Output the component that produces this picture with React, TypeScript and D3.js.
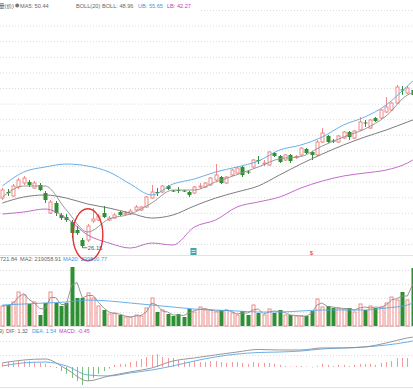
import * as d3 from "d3";

const W = 413;
const H = 389;

// K-line data, one entry per trading day (open / high / low / close)
const opens = [
  34.95, 36.02, 35.31, 36.9, 37.61, 37.79, 36.72, 37.26, 35.84, 32.3,
  34.07, 31.95, 31.59, 30.71, 29.29, 27.52, 27.52, 30.88, 31.06, 32.3,
  31.06, 31.41, 32.48, 32.12, 32.12, 32.83, 32.83, 33.36, 34.95, 36.02,
  36.02, 37.08, 36.28, 36.37, 36.28, 36.02, 35.84, 36.99, 36.9, 37.26,
  38.14, 38.67, 37.61, 39.03, 39.38, 40.44, 39.64, 40.44, 41.68, 41.06,
  40.8, 42.92, 42.39, 41.68, 42.57, 42.12, 42.57, 43.63, 43.1, 42.57,
  44.87, 45.93, 45.13, 44.87, 45.57, 46.64, 45.57, 46.99, 48.32, 47.34,
  49.11, 49.11, 50.18, 50.53, 51.77, 54.16, 53.54, 54.07,
];
const highs = [
  36.72, 36.55, 37.43, 38.49, 38.85, 38.14, 37.96, 37.61, 36.19, 34.6,
  34.42, 32.3, 32.12, 31.06, 30.0, 27.87, 30.35, 33.18, 32.12, 33.54,
  31.77, 32.3, 32.65, 32.65, 33.01, 33.72, 33.54, 35.31, 37.26, 36.72,
  37.26, 37.26, 36.37, 36.9, 36.37, 36.19, 37.08, 37.61, 37.79, 38.67,
  40.97, 38.85, 38.85, 40.09, 40.44, 40.62, 39.91, 41.86, 42.39, 41.68,
  43.27, 43.1, 42.57, 42.74, 42.74, 42.57, 43.98, 43.8, 43.27, 45.22,
  47.34, 46.11, 45.4, 46.11, 46.81, 46.81, 46.99, 49.29, 48.76, 48.94,
  49.29, 50.71, 52.83, 51.95, 54.96, 54.78, 54.78, 54.42,
];
const lows = [
  34.6, 35.31, 35.13, 36.55, 37.26, 36.9, 36.55, 36.19, 34.07, 32.12,
  31.77, 31.06, 30.71, 27.87, 28.41, 26.15, 27.17, 30.53, 30.88, 31.41,
  30.88, 31.24, 31.77, 31.95, 31.95, 32.65, 32.65, 33.18, 34.78, 35.31,
  35.84, 36.37, 36.02, 35.84, 36.02, 35.13, 35.66, 36.55, 36.72, 37.08,
  37.96, 37.43, 37.43, 38.85, 39.2, 38.67, 39.2, 40.26, 40.97, 40.62,
  40.62, 42.21, 41.15, 41.5, 41.15, 41.86, 42.39, 42.74, 41.68, 42.39,
  44.69, 44.69, 44.69, 44.69, 45.4, 45.22, 45.4, 46.81, 47.52, 47.17,
  48.41, 48.94, 50.0, 50.35, 51.59, 53.19, 53.36, 50.18,
];
const closes = [
  36.37, 35.84, 37.08, 38.14, 38.49, 37.26, 37.61, 36.37, 34.6, 34.25,
  32.3, 31.41, 31.06, 28.76, 28.76, 26.46, 30.0, 31.24, 31.77, 31.59,
  31.41, 31.95, 31.95, 32.3, 32.65, 33.36, 33.36, 35.13, 36.02, 35.84,
  37.08, 36.55, 36.1, 36.19, 36.1, 35.49, 36.9, 37.08, 37.61, 38.49,
  39.03, 37.61, 38.67, 39.91, 40.26, 39.03, 39.47, 41.68, 41.59, 41.15,
  43.1, 42.39, 41.33, 42.57, 41.5, 42.3, 43.8, 42.92, 42.57, 44.87,
  46.46, 44.87, 44.95, 45.93, 46.64, 45.75, 46.81, 48.41, 48.14, 48.76,
  48.58, 50.53, 51.06, 51.77, 54.6, 53.98, 54.42, 53.19,
];

const volumes = [
  232000, 243600, 278400, 394400, 359600, 255200, 278400, 127600, 266800, 394400,
  266800, 232000, 266800, 684400, 324800, 324800, 382800, 324800, 232000, 185600,
  139200, 150800, 127600, 104400, 104400, 127600, 116000, 208800, 324800, 162400,
  185600, 139200, 116000, 139200, 104400, 197200, 162400, 220400, 185600, 185600,
  162400, 185600, 185600, 150800, 127600, 174000, 127600, 243600, 150800, 127600,
  197200, 150800, 185600, 127600, 127600, 116000, 116000, 116000, 174000, 313200,
  220400, 232000, 208800, 208800, 197200, 208800, 162400, 255200, 185600, 232000,
  208800, 220400, 266800, 336400, 301600, 394400, 301600, 672800,
];
const volMa2 = [
  232000, 237800, 261000, 336400, 377000, 307400, 266800, 203000, 197200, 330600,
  330600, 249400, 249400, 475600, 504600, 324800, 353800, 353800, 278400, 208800,
  162400, 145000, 139200, 116000, 104400, 116000, 121800, 162400, 266800, 243600,
  174000, 162400, 127600, 127600, 121800, 150800, 179800, 191400, 203000, 185600,
  174000, 174000, 185600, 168200, 139200, 150800, 150800, 185600, 197200, 139200,
  162400, 174000, 168200, 156600, 127600, 121800, 116000, 116000, 145000, 243600,
  266800, 226200, 220400, 208800, 203000, 203000, 185600, 208800, 220400, 208800,
  220400, 214600, 243600, 301600, 319000, 348000, 348000, 487200,
];

const macdHist = [
  0.24, 0.29, 0.29, 0.35, 0.35, 0.35, 0.29, 0.24, 0.18, 0.06,
  -0.06, -0.24, -0.41, -0.65, -0.82, -1.06, -0.82, -0.65, -0.41, -0.24,
  -0.09, 0.12, 0.18, 0.18, 0.29, 0.35, 0.47, 0.59, 0.71, 0.76,
  0.59, 0.53, 0.53, 0.41, 0.35, 0.29, 0.35, 0.29, 0.29, 0.35,
  0.35, 0.29, 0.24, 0.29, 0.29, 0.24, 0.18, 0.29, 0.24, 0.24,
  0.24, 0.18, 0.12, 0.06, 0.03, 0.06, 0.06, 0.03, -0.03, 0.06,
  0.18, 0.12, 0.06, 0.12, 0.12, 0.06, 0.12, 0.18, 0.18, 0.18,
  0.12, 0.24, 0.29, 0.35, 0.53, 0.53, 0.53, 0.53,
];

// smooth indicator lines
const lineIdx = [0, 4, 8, 12, 16, 20, 24, 28, 32, 36, 40, 44, 48, 52, 56, 60, 64, 68, 72, 76, 77];
const ma5 = [35.13, 37.08, 37.08, 32.83, 28.94, 31.24, 32.12, 34.07, 36.37, 36.37, 37.79, 39.09, 40.44, 41.91, 42.3, 44.16, 45.75, 47.17, 49.47, 53.19, 53.59];
const bollMid = [34.07, 35.13, 35.49, 34.95, 33.89, 33.18, 32.3, 31.41, 31.95, 33.54, 34.95, 36.02, 37.08, 39.03, 40.97, 42.74, 44.34, 45.75, 46.99, 48.41, 48.76];
const bollUp = [37.08, 39.56, 40.44, 40.97, 40.62, 39.56, 37.43, 35.49, 37.43, 38.32, 39.56, 40.44, 41.5, 43.45, 44.34, 45.75, 47.88, 49.29, 51.42, 54.78, 55.66];
const bollLow = [32.12, 32.48, 33.01, 31.41, 28.41, 26.99, 26.1, 26.99, 26.64, 29.82, 31.06, 33.36, 34.25, 35.13, 36.72, 37.96, 38.85, 39.38, 39.91, 41.15, 41.68];
const volMa20 = [243600, 255200, 266800, 278400, 301600, 290000, 266800, 243600, 220400, 197200, 185600, 174000, 162400, 162400, 174000, 185600, 185600, 185600, 208800, 243600, 266800];
const dif = [0.24, 0.41, 0.47, -0.12, -0.82, -0.53, -0.29, -0.06, 0.35, 0.53, 0.71, 0.88, 1.03, 1.0, 1.0, 1.12, 1.12, 1.18, 1.41, 1.71, 1.76];
const dea = [0.06, 0.24, 0.29, 0.06, -0.47, -0.53, -0.35, -0.18, 0.06, 0.35, 0.59, 0.76, 0.85, 0.88, 0.94, 1.06, 1.12, 1.18, 1.29, 1.47, 1.53];

const RED = "#f08a8a";
const GREEN = "#2f8f32";
const GRAY = "#8c8c8c";
const DARK = "#666";
const BLUE = "#5aa6e6";
const PURPLE = "#b95cc4";
const FONT = "'Liberation Sans', Arial, 'Noto Sans CJK SC', sans-serif";

export default function App() {
  const x = d3.scaleLinear().domain([0, opens.length - 1]).range([2.4, 412.8]);
  const yP = d3.scaleLinear().domain([24.87, 67.7]).range([255, 13]);
  const yV = d3.scaleLinear().domain([0, 812000]).range([326, 256]);
  const yM = d3.scaleLinear().domain([-1.18, 2.0]).range([387, 333]);

  const sampled = (vals: number[], y: d3.ScaleLinear<number, number>) =>
    d3.line<number>()
      .x((_, i) => x(lineIdx[i]))
      .y((d) => y(d))
      .curve(d3.curveMonotoneX)(vals) || "";

  const daily = d3.line<number>()
    .x((_, i) => x(i))
    .y((d) => yV(d))(volMa2) || "";

  const mainGrid = d3.range(16).map((i) => 10 + i * 15.6);
  const volGrid = [270, 284, 298, 312];
  const macdGrid = [341, 355];

  const lowIdx = d3.minIndex(lows);
  const lowV = lows[lowIdx];
  const bw = 4;

  return (
    <div style={{ position: "fixed", left: 0, top: 0 }}>
      <svg width={W} height={H} style={{ display: "block", background: "#fff" }} fontFamily={FONT}>
        {/* grid */}
        {[...mainGrid, ...volGrid, ...macdGrid].map((g, i) => (
          <line key={"g" + i} x1={0} x2={W} y1={g + 0.5} y2={g + 0.5}
            stroke="#dcdcdc" strokeDasharray="1,2" />
        ))}
        {[255, 326, 387].map((g) => (
          <line key={"s" + g} x1={0} x2={W} y1={g + 0.5} y2={g + 0.5} stroke="#e2e2e2" />
        ))}

        {/* candles */}
        {opens.map((o, i) => {
          const c = closes[i];
          const up = c >= o;
          const cx = Math.round(x(i)) + 0.5;
          const top = yP(Math.max(o, c));
          const bot = yP(Math.min(o, c));
          const hgt = Math.max(bot - top, 1);
          if (up) {
            return (
              <g key={"k" + i} stroke={RED} strokeWidth={1}>
                <line x1={cx} x2={cx} y1={yP(highs[i])} y2={top} />
                <line x1={cx} x2={cx} y1={top + hgt} y2={yP(lows[i])} />
                <rect x={cx - bw / 2 + 0.5} y={top} width={bw - 1} height={hgt} fill="#fff" />
              </g>
            );
          }
          return (
            <g key={"k" + i}>
              <line x1={cx} x2={cx} y1={yP(highs[i])} y2={yP(lows[i])} stroke={GREEN} />
              <rect x={cx - bw / 2} y={top} width={bw} height={hgt} fill={GREEN} />
            </g>
          );
        })}

        {/* price indicator lines */}
        <path d={sampled(bollLow, yP)} fill="none" stroke={PURPLE} strokeWidth={0.9} />
        <path d={sampled(bollUp, yP)} fill="none" stroke={BLUE} strokeWidth={0.9} />
        <path d={sampled(bollMid, yP)} fill="none" stroke="#6e6e6e" strokeWidth={0.9} />
        <path d={sampled(ma5, yP)} fill="none" stroke={GRAY} strokeWidth={0.9} />

        {/* lowest price note */}
        <line x1={x(lowIdx)} x2={x(lowIdx) + 5} y1={yP(lowV)} y2={yP(lowV)} stroke="#555" strokeWidth={0.8} />
        <text x={x(lowIdx) + 5.5} y={yP(lowV) + 2} fontSize={5.8} fill="#555">{lowV.toFixed(2)}</text>
        <ellipse cx={x(lowIdx) + 5.5} cy={yP(lowV) - 13} rx={15} ry={26} fill="none" stroke="#e53030" strokeWidth={1.4} />

        {/* event markers */}
        <rect x={190.5} y={248} width={6} height={7} fill="#43a5a6" />
        <line x1={191.5} x2={195.5} y1={250.5} y2={250.5} stroke="#fff" strokeWidth={0.8} />
        <line x1={191.5} x2={195.5} y1={252.5} y2={252.5} stroke="#fff" strokeWidth={0.8} />
        <text x={311.5} y={255} fontSize={6} fill="#e53030" textAnchor="middle">$</text>

        {/* volume */}
        {volumes.map((v, i) => {
          const up = closes[i] >= opens[i];
          const cx = Math.round(x(i)) + 0.5;
          const top = yV(v);
          return up ? (
            <rect key={"v" + i} x={cx - bw / 2 + 0.5} y={top} width={bw - 1} height={326 - top}
              fill="#fff" stroke={RED} strokeWidth={1} />
          ) : (
            <rect key={"v" + i} x={cx - bw / 2} y={top} width={bw} height={326 - top} fill={GREEN} />
          );
        })}
        <path d={daily} fill="none" stroke={GRAY} strokeWidth={0.9} />
        <path d={sampled(volMa20, yV)} fill="none" stroke={BLUE} strokeWidth={0.9} />

        {/* MACD */}
        {macdHist.map((m, i) => {
          const cx = Math.round(x(i)) + 0.5;
          return (
            <line key={"m" + i} x1={cx} x2={cx} y1={yM(0)} y2={yM(m)}
              stroke={m >= 0 ? "#f39a9a" : "#7cc07e"} strokeWidth={1} />
          );
        })}
        <path d={sampled(dea, yM)} fill="none" stroke={BLUE} strokeWidth={0.9} />
        <path d={sampled(dif, yM)} fill="none" stroke={GRAY} strokeWidth={0.9} />

        {/* legends */}
        <rect x={0} y={1} width={201} height={11} fill="#fff" />
        <g fontSize={5.6}>
          <text x={-1} y={7.5} fill="#555">量(价)</text>
          <circle cx={17.2} cy={5.5} r={2} fill="#777" />
          <text x={20} y={7.5} fill={DARK}>MA5: 50.44</text>
          <text x={76} y={7.5} fill={DARK}>BOLL(20)</text>
          <text x={102} y={7.5} fill={DARK}>BOLL: 48.96</text>
          <text x={138} y={7.5} fill="#3d98e6">UB: 55.65</text>
          <text x={167} y={7.5} fill="#c040c0">LB: 42.27</text>

          <text x={0} y={260.5} fill={DARK}>721.84</text>
          <text x={20} y={260.5} fill={DARK}>MA2: 219058.91</text>
          <text x={63} y={260.5} fill="#3d98e6">MA20: 239800.77</text>
        </g>
        <g fontSize={5.3}>
          <text x={-1} y={333} fill={DARK}>9)</text>
          <text x={6} y={333} fill={DARK}>DIF: 1.32</text>
          <text x={32} y={333} fill="#3d98e6">DEA: 1.54</text>
          <text x={59} y={333} fill="#c040c0">MACD: -0.45</text>
        </g>
      </svg>
    </div>
  );
}
